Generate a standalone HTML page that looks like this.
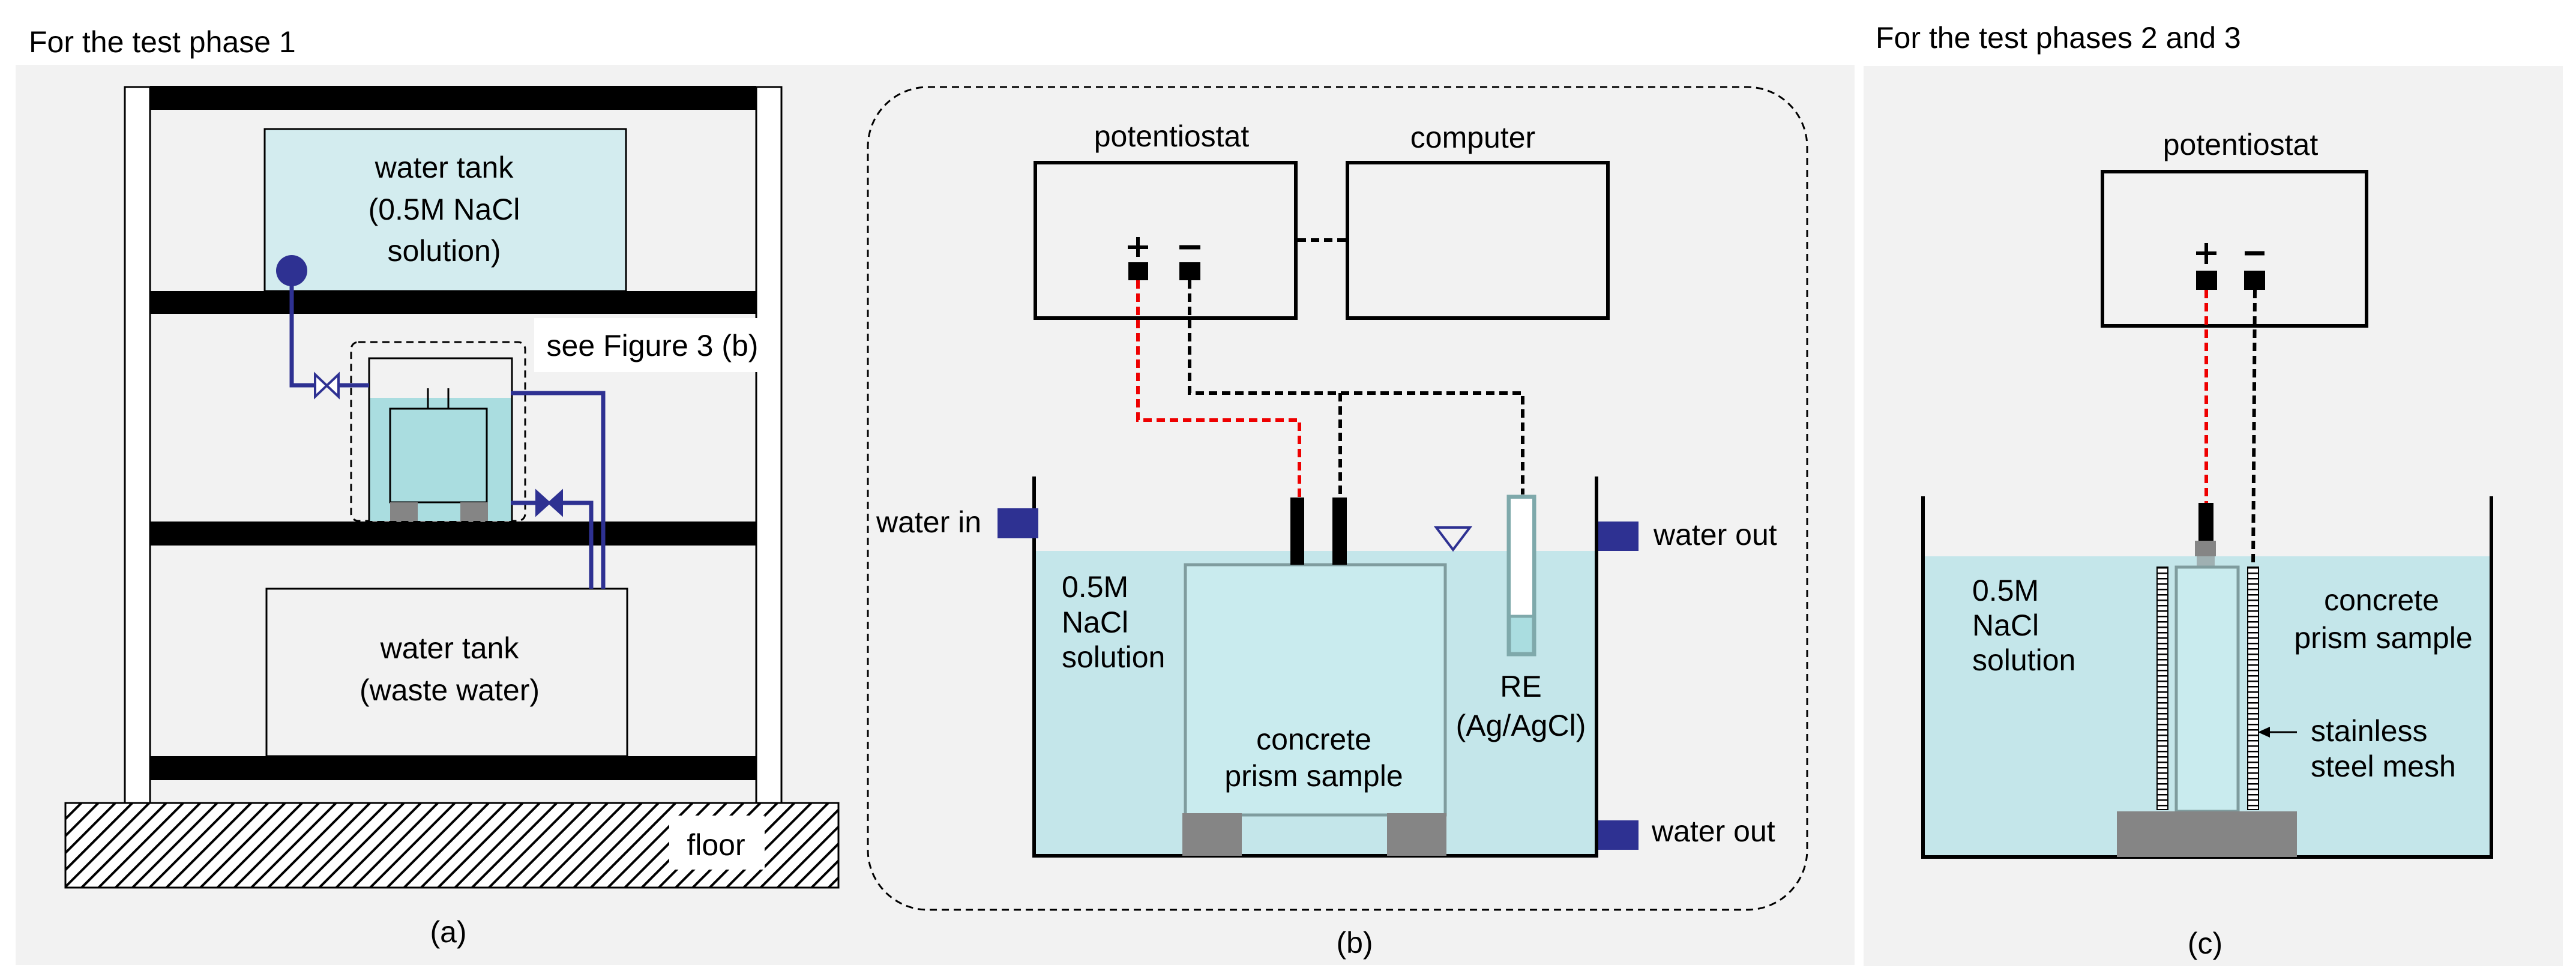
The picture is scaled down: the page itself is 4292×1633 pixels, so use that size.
<!DOCTYPE html>
<html><head><meta charset="utf-8"><style>
html,body{margin:0;padding:0;background:#fff}
svg{display:block}
text{font-family:"Liberation Sans",Arial,sans-serif;font-size:50px;fill:#000}
</style></head><body>
<svg width="4292" height="1633" viewBox="0 0 4292 1633" xmlns="http://www.w3.org/2000/svg">
<defs>
<pattern id="hatch" width="20" height="20" patternUnits="userSpaceOnUse" patternTransform="rotate(45)">
<rect width="20" height="20" fill="#fff"/><rect x="0" y="0" width="4" height="20" fill="#000"/>
</pattern>
<pattern id="mesh" width="18" height="9" patternUnits="userSpaceOnUse">
<rect width="18" height="9" fill="#fff"/><rect y="0" width="18" height="2.5" fill="#000"/>
</pattern>
</defs>
<rect width="4292" height="1633" fill="#fff"/>
<!-- panel backgrounds -->
<rect x="26" y="108" width="3064" height="1500" fill="#f2f2f2"/>
<rect x="3105" y="110" width="1165" height="1500" fill="#f2f2f2"/>
<text x="48" y="87" font-size="51">For the test phase 1</text>
<text x="3125" y="80" font-size="51">For the test phases 2 and 3</text>

<!-- ============ (a) ============ -->
<rect x="208" y="145" width="42" height="1195" fill="#fff" stroke="#000" stroke-width="3"/>
<rect x="1260" y="145" width="42" height="1195" fill="#fff" stroke="#000" stroke-width="3"/>
<rect x="441" y="215" width="602" height="270" fill="#d3ecef" stroke="#000" stroke-width="3"/>
<rect x="250" y="143" width="1010" height="40" fill="#000"/>
<rect x="250" y="485" width="1010" height="38" fill="#000"/>
<rect x="250" y="869" width="1010" height="40" fill="#000"/>
<rect x="250" y="1260" width="1010" height="40" fill="#000"/>
<text x="740" y="296" text-anchor="middle" font-size="46">water tank</text>
<text x="740" y="366" text-anchor="middle" font-size="46">(0.5M NaCl</text>
<text x="740" y="435" text-anchor="middle" font-size="46">solution)</text>
<rect x="444" y="981" width="601" height="279" fill="#f2f2f2" stroke="#000" stroke-width="3"/>
<text x="749" y="1097" text-anchor="middle" font-size="46">water tank</text>
<text x="749" y="1167" text-anchor="middle" font-size="46">(waste water)</text>
<rect x="109" y="1338" width="1288" height="141" fill="url(#hatch)" stroke="#000" stroke-width="3"/>
<rect x="1115" y="1359" width="159" height="90" fill="#fff"/>
<text x="1193" y="1425" text-anchor="middle" font-size="46">floor</text>
<!-- small tank -->
<rect x="585" y="570" width="290" height="298" rx="12" fill="none" stroke="#000" stroke-width="3" stroke-dasharray="12,8"/>
<rect x="615" y="663" width="238" height="205" fill="#aadde0"/>
<path d="M615 868 V597 H853 V868" fill="none" stroke="#000" stroke-width="3"/>
<rect x="650" y="681" width="161" height="156" fill="#aadde0" stroke="#000" stroke-width="3"/>
<line x1="713" y1="647" x2="713" y2="681" stroke="#000" stroke-width="3"/>
<line x1="747" y1="647" x2="747" y2="681" stroke="#000" stroke-width="3"/>
<rect x="650" y="837" width="46" height="31" fill="#858585"/>
<rect x="767" y="837" width="46" height="31" fill="#858585"/>
<rect x="890" y="530" width="373" height="90" fill="#fff"/>
<text x="1087" y="593" text-anchor="middle" font-size="46">see Figure 3 (b)</text>
<!-- pipes -->
<g stroke="#2e3192" stroke-width="7" fill="none">
<path d="M486 451 V642 H525"/>
<path d="M564 642 H615"/>
<path d="M851 655 H1005 V981"/>
<path d="M851 838 H894"/>
<path d="M936 838 H985 V981"/>
</g>
<circle cx="486" cy="451" r="26" fill="#2e3192"/>
<path d="M525 624 L564 661 V624 L525 661 Z" fill="#fff" stroke="#2e3192" stroke-width="4"/>
<path d="M894 819 L936 857 V819 L894 857 Z" fill="#2e3192" stroke="#2e3192" stroke-width="4"/>
<text x="747" y="1570" text-anchor="middle" font-size="48">(a)</text>

<!-- ============ (b) ============ -->
<rect x="1446" y="145" width="1565" height="1371" rx="100" fill="none" stroke="#000" stroke-width="3" stroke-dasharray="12,8"/>
<rect x="1725" y="271" width="434" height="259" fill="none" stroke="#000" stroke-width="6"/>
<rect x="2245" y="271" width="434" height="259" fill="none" stroke="#000" stroke-width="6"/>
<text x="1952" y="244" text-anchor="middle">potentiostat</text>
<text x="2454" y="246" text-anchor="middle">computer</text>
<line x1="2162" y1="400" x2="2245" y2="400" stroke="#000" stroke-width="6" stroke-dasharray="14,8"/>
<rect x="1880" y="437" width="33" height="30" fill="#000"/>
<rect x="1965" y="437" width="35" height="30" fill="#000"/>
<path d="M1896 395 V428 M1879 412 H1913" stroke="#000" stroke-width="6"/>
<path d="M1965 412 H2000" stroke="#000" stroke-width="7"/>
<!-- water -->
<rect x="1723" y="918" width="937" height="508" fill="#c4e6ea"/>
<path d="M1723 794 V1426 H2660 V794" fill="none" stroke="#000" stroke-width="6"/>
<rect x="1975" y="941" width="433" height="417" fill="#c9ebee" stroke="#7f9c9e" stroke-width="5"/>
<rect x="1970" y="1355" width="99" height="71" fill="#858585"/>
<rect x="2311" y="1355" width="99" height="71" fill="#858585"/>
<path d="M1896 467 V700 H2165 V829" fill="none" stroke="#e00" stroke-width="6" stroke-dasharray="14,8"/>
<path d="M1982 467 V655 H2537 V824 M2233 655 V829" fill="none" stroke="#000" stroke-width="6" stroke-dasharray="14,8"/>
<rect x="2150" y="829" width="23" height="112" fill="#000"/>
<rect x="2220" y="829" width="24" height="112" fill="#000"/>
<path d="M2393 879 H2449 L2421 916 Z" fill="none" stroke="#2e3192" stroke-width="4"/>
<rect x="2514" y="828" width="42" height="262" fill="#aadde0" stroke="#7fa9ab" stroke-width="7"/>
<rect x="2517" y="831" width="36" height="195" fill="#fff"/>
<line x1="2514" y1="1027" x2="2556" y2="1027" stroke="#7fa9ab" stroke-width="5"/>
<text x="2534" y="1161" text-anchor="middle">RE</text>
<text x="2534" y="1226" text-anchor="middle">(Ag/AgCl)</text>
<text x="1769" y="995">0.5M</text>
<text x="1769" y="1054">NaCl</text>
<text x="1769" y="1112">solution</text>
<text x="2189" y="1249" text-anchor="middle">concrete</text>
<text x="2189" y="1310" text-anchor="middle">prism sample</text>
<rect x="1662" y="847" width="68" height="50" fill="#2e3192"/>
<text x="1460" y="887">water in</text>
<rect x="2663" y="869" width="67" height="49" fill="#2e3192"/>
<text x="2755" y="908">water out</text>
<rect x="2663" y="1367" width="67" height="49" fill="#2e3192"/>
<text x="2752" y="1402">water out</text>
<text x="2257" y="1588" text-anchor="middle" font-size="48">(b)</text>

<!-- ============ (c) ============ -->
<rect x="3503" y="286" width="440" height="257" fill="none" stroke="#000" stroke-width="6"/>
<text x="3733" y="258" text-anchor="middle">potentiostat</text>
<path d="M3676 405 V440 M3659 422 H3693" stroke="#000" stroke-width="6"/>
<path d="M3740 422 H3773" stroke="#000" stroke-width="7"/>
<rect x="3659" y="451" width="35" height="32" fill="#000"/>
<rect x="3739" y="451" width="35" height="32" fill="#000"/>
<rect x="3206" y="927" width="945" height="501" fill="#c4e6ea"/>
<path d="M3204 827 V1428 H4151 V827" fill="none" stroke="#000" stroke-width="6"/>
<line x1="3676" y1="483" x2="3676" y2="838" stroke="#e00" stroke-width="6" stroke-dasharray="14,8"/>
<line x1="3757" y1="483" x2="3754" y2="943" stroke="#000" stroke-width="6" stroke-dasharray="14,8"/>
<rect x="3663" y="838" width="25" height="63" fill="#000"/>
<rect x="3657" y="901" width="35" height="26" fill="#858585"/>
<rect x="3660" y="927" width="30" height="18" fill="#9fb0b2"/>
<rect x="3626" y="945" width="103" height="407" fill="#c9ebee" stroke="#7f9c9e" stroke-width="5"/>
<rect x="3594" y="945" width="18" height="404" fill="url(#mesh)" stroke="#000" stroke-width="2"/>
<rect x="3745" y="945" width="18" height="404" fill="url(#mesh)" stroke="#000" stroke-width="2"/>
<rect x="3527" y="1352" width="300" height="76" fill="#858585"/>
<text x="3286" y="1001">0.5M</text>
<text x="3286" y="1059">NaCl</text>
<text x="3286" y="1117">solution</text>
<text x="3968" y="1017" text-anchor="middle">concrete</text>
<text x="3971" y="1080" text-anchor="middle">prism sample</text>
<line x1="3827" y1="1220" x2="3775" y2="1220" stroke="#000" stroke-width="3"/>
<path d="M3762 1220 L3782 1211 V1229 Z" fill="#000"/>
<text x="3850" y="1235" font-size="46">stainless</text>
<text x="3850" y="1294" font-size="46">steel mesh</text>
<text x="3674" y="1589" text-anchor="middle" font-size="48">(c)</text>
</svg>
</body></html>
